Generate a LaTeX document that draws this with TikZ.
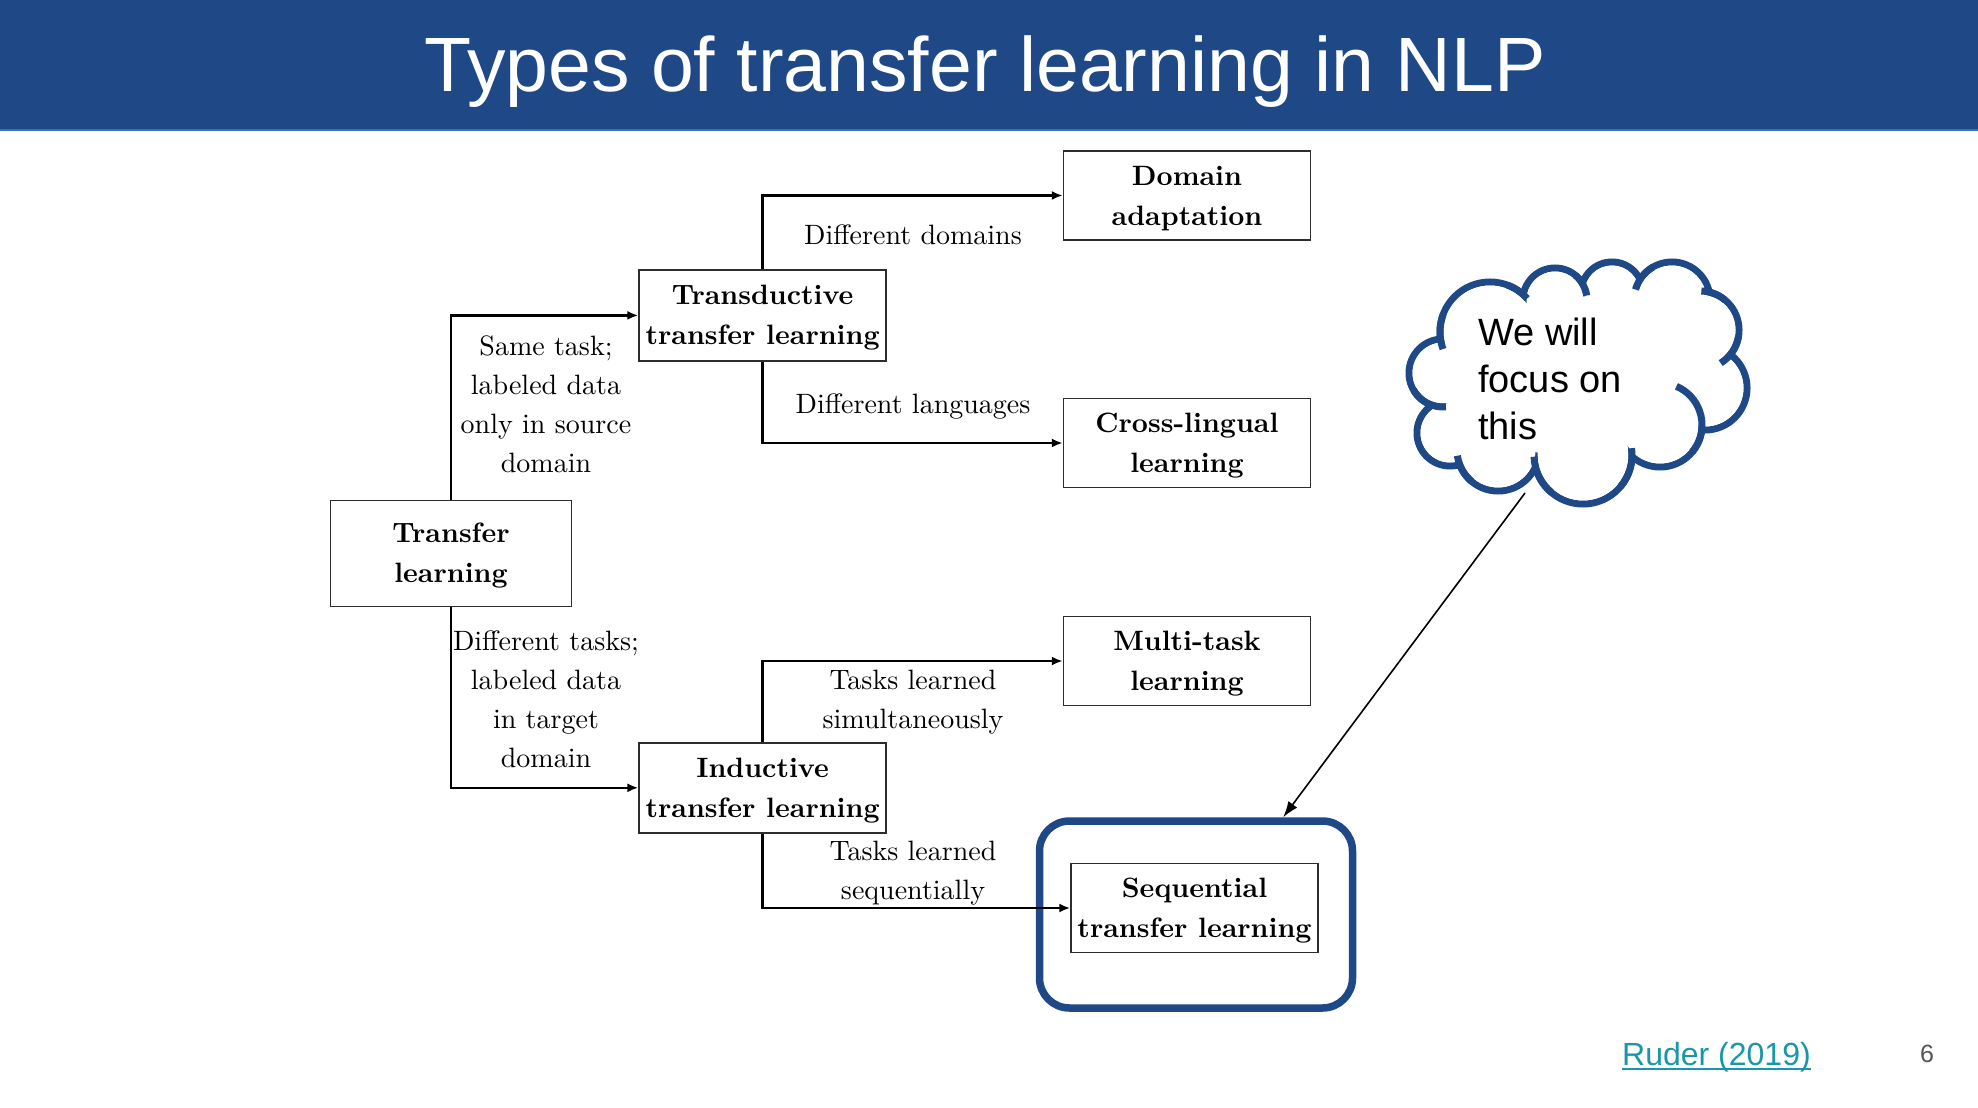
\documentclass[tikz,border=0pt]{standalone}
\usepackage{fontspec}
\setmainfont{lmroman10-regular}[Extension=.otf, BoldFont=lmroman10-bold]
\newfontfamily\sans{Liberation Sans}
\usetikzlibrary{arrows.meta,calc}
\definecolor{hdrblue}{RGB}{31,73,134}
\definecolor{hdrline}{RGB}{52,118,186}
\definecolor{boxline}{RGB}{45,45,45}
\definecolor{linkteal}{RGB}{26,150,170}
\definecolor{pagegray}{RGB}{85,85,85}
\newcommand{\topstrut}{\rule{0pt}{24.5pt}}
\begin{document}
\begin{tikzpicture}[x=1pt,y=-1pt,
  box/.style={draw=boxline, line width=1.5pt, fill=white, minimum width=247pt,
    minimum height=89pt, inner sep=0pt, align=center,
    font=\bfseries\fontsize{28}{40}\selectfont},
  lab/.style={inner sep=0pt, align=center, font=\fontsize{28}{39}\selectfont},
  conn/.style={line width=2.4pt, -{Latex[length=11pt,width=9pt]}},
  cloudline/.style={draw=hdrblue, line width=7pt},
]
\useasboundingbox (0,0) rectangle (1978,1108);
\fill[white] (0,0) rectangle (1978,1108);

% title bar
\fill[hdrblue] (0,0) rectangle (1978,129);
\fill[hdrline] (0,129) rectangle (1978,131);
\node[anchor=base, inner sep=0pt, text=white, font=\sans\fontsize{77}{90}\selectfont]
  (title) at (985,92) {Types of transfer learning in NLP};

% highlight frame around the sequential case
\node[draw=hdrblue, line width=7.5pt, rounded corners=30pt, minimum width=313pt,
  minimum height=187pt, inner sep=0pt] (focus) at (1196,914.5) {};

% taxonomy boxes
\node[box, minimum width=241pt, minimum height=106pt] (tl) at (451,553.5) {\topstrut Transfer\\learning};
\node[box, minimum height=91pt] (trans) at (762.6,315.4) {\topstrut Transductive\\transfer learning};
\node[box, minimum height=90pt] (ind) at (762.6,787.8) {\topstrut Inductive\\transfer learning};
\node[box] (da) at (1187,195.5) {\topstrut Domain\\adaptation};
\node[box] (cl) at (1187,443) {\topstrut Cross-lingual\\learning};
\node[box] (mt) at (1187,661) {\topstrut Multi-task\\learning};
\node[box] (seq) at (1194.5,908) {\topstrut Sequential\\transfer learning};

% connectors
\draw[conn] (tl.north) |- (trans.west);
\draw[conn] (tl.south) |- (ind.west);
\draw[conn] (trans.north) |- (da.west);
\draw[conn] (trans.south) |- (cl.west);
\draw[conn] (ind.north) |- (mt.west);
\draw[conn] (ind.south) |- (seq.west);

% connector labels
\node[lab] (lsame) at (546,404) {Same task;\\labeled data\\only in source\\domain};
\node[lab] (ldiff) at (546,699) {Different tasks;\\labeled data\\in target\\domain};
\node[lab] (ldom) at (913,235) {Different domains};
\node[lab] (llang) at (913,407) {Different languages};
\node[lab] (lsim) at (913,702) {Tasks learned\\simultaneously};
\node[lab] (lseq) at (913,873) {Tasks learned\\sequentially};

% thought cloud: outline of a union of circles
\def\puffs{1490/332/50, 1555/300/32, 1612/293/31, 1672/300/38, 1700/330/39,
  1705/388/42, 1660/425/42, 1583/455/49, 1498/450/41, 1450/433/33, 1443/373/34}
\foreach \cx/\cy/\rr in \puffs
  \draw[cloudline] (\cx,\cy) circle[radius=\rr];
\fill[white] (1490,332) -- (1555,300) -- (1612,293) -- (1672,300) -- (1700,330)
  -- (1705,388) -- (1660,425) -- (1583,455) -- (1498,450) -- (1450,433) -- (1443,373) -- cycle;
\foreach \cx/\cy/\rr in \puffs {
  \pgfmathsetmacro\ri{\rr-3.5}
  \fill[white] (\cx,\cy) circle[radius=\ri];
}
% inner hooks of the puffs
\foreach \cx/\cy/\rr/\aa/\bb in {1490/332/50/-70/-42, 1490/332/50/200/160,
  1555/300/32/-50/-8, 1672/300/38/240/196, 1700/330/39/-50/-88,
  1700/330/39/10/58, 1660/425/42/40/-67, 1583/455/49/40/-8,
  1583/455/49/130/178, 1498/450/41/130/172, 1443/373/34/150/85}
  \draw[cloudline, line cap=butt] ($(\cx,\cy)+(\aa:\rr)$) arc[start angle=\aa, end angle=\bb, radius=\rr];
\node[anchor=north west, inner sep=0pt, align=left,
  font=\sans\fontsize{38}{47}\selectfont] (note) at (1478,318) {We will\\focus on\\this};

% pointer from the cloud to the highlighted frame
\coordinate (cloudtail) at (1525,493);
\path (focus.north west) -- (focus.north east) coordinate[pos=0.772] (focustop);
\draw[line width=1.6pt, -{Latex[length=16pt,width=11pt]}] (cloudtail) -- (focustop);

% footer
\node[anchor=base west, inner sep=0pt, text=linkteal, font=\sans\fontsize{32}{38}\selectfont]
  (ref) at (1622,1065) {Ruder (2019)};
\draw[linkteal, line width=2.5pt] ($(ref.base west)+(0,4)$) -- ($(ref.base east)+(0,4)$);
\node[anchor=base, inner sep=0pt, text=pagegray, font=\sans\fontsize{25}{30}\selectfont]
  (page) at (1927,1062) {6};
\end{tikzpicture}
\end{document}
